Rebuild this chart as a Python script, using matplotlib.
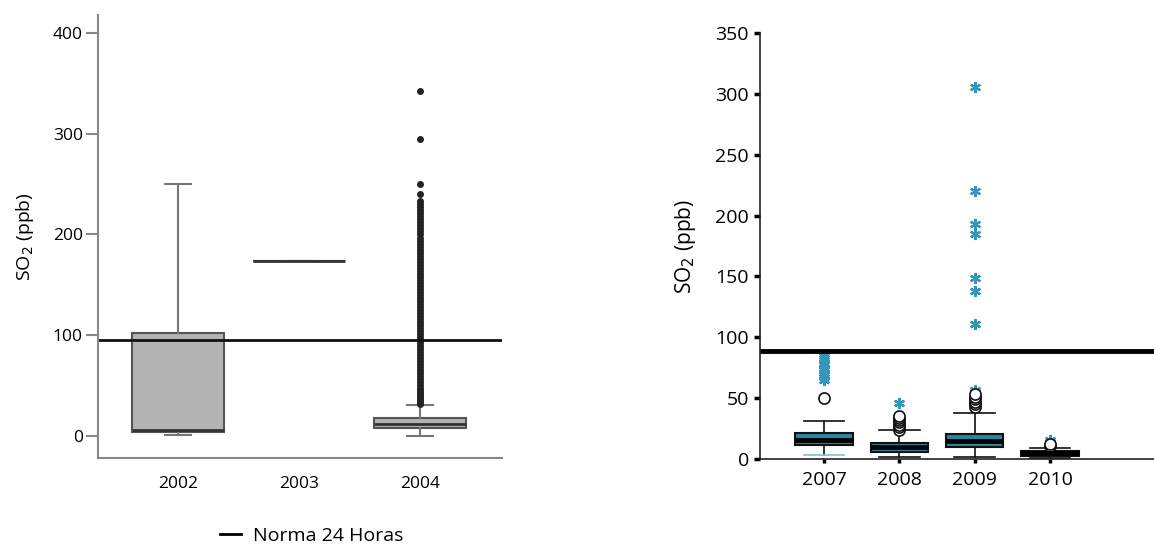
import numpy as np
import matplotlib.pyplot as plt
from matplotlib.lines import Line2D

plt.rcParams['font.family'] = ['Open Sans', 'DejaVu Sans']

# ---- left panel: 2002-2004 ----
years_a = ['2002', '2003', '2004']
q1_a = [4, 174, 8]
med_a = [6, 174, 12]
q3_a = [102, 174, 18]
wlo_a = [1, 174, 0]
whi_a = [250, 174, 31]
fliers_2004 = [32, 34, 36, 38, 40, 42, 44, 46, 48, 50, 53, 56, 59, 62, 65, 68,
                71, 74, 77, 80, 83, 86, 89, 92, 95, 98, 101, 104, 107, 110, 113,
                116, 119, 122, 125, 128, 131, 134, 137, 140, 143, 146, 149, 152,
                155, 158, 161, 164, 167, 170, 173, 176, 179, 182, 185, 188, 191,
                194, 197, 200, 203, 206, 209, 212, 215, 218, 221, 224, 227, 230,
                233, 240, 250, 295, 343]
norma_a = 95

# ---- right panel: 2007-2010 ----
years_b = ['2007', '2008', '2009', '2010']
q1_b = [11.5, 6, 9.6, 2.5]
med_b = [15.6, 9.6, 15, 4.5]
q3_b = [21.6, 13.4, 20.5, 6.6]
wlo_b = [3, 2, 2, 0.5]
whi_b = [31.5, 23.8, 38, 9.3]
circ_b = [[50],
          [24, 26, 28, 30, 32, 34, 35],
          [43, 45, 47, 49, 51, 53],
          [11, 12.5]]
star_b = [[65, 67, 69, 71, 73, 75, 77, 79, 81, 83, 85],
          [46],
          [55, 57, 111, 138, 149, 185, 193, 220, 306],
          [14, 16]]
norma_b = 89

fig = plt.figure(figsize=(11.54, 5.5), dpi=100)

# left
ax = fig.add_axes([0.0849, 0.1673, 0.3503, 0.8054])
stats = []
for i in range(len(years_a)):
    stats.append(dict(q1=q1_a[i], med=med_a[i], q3=q3_a[i],
                      whislo=wlo_a[i], whishi=whi_a[i], fliers=[]))
ax.bxp(stats, positions=[1, 2, 3], widths=0.76, patch_artist=True,
       showfliers=False,
       boxprops=dict(facecolor='#b3b3b3', edgecolor='#555555', linewidth=1.5),
       medianprops=dict(color='#333333', linewidth=2),
       whiskerprops=dict(color='#777777', linewidth=1.5),
       capprops=dict(color='#777777', linewidth=1.5), capwidths=0.21)
ax.plot([3] * len(fliers_2004), fliers_2004, 'o', color='#222222',
        markersize=5, markeredgewidth=0)
ax.axhline(norma_a, color='#111111', linewidth=2)
ax.set_xlim(0.34, 3.68)
ax.set_ylim(-22, 418)
ax.set_yticks([0, 100, 200, 300, 400])
ax.set_xticks([1, 2, 3])
ax.set_xticklabels(years_a)
for s in ['top', 'right']:
    ax.spines[s].set_visible(False)
for s in ['left', 'bottom']:
    ax.spines[s].set_color('#888888')
    ax.spines[s].set_linewidth(1.5)
ax.tick_params(axis='y', length=9, color='#888888', width=1.5, labelsize=12.5,
               pad=2)
ax.tick_params(axis='x', length=0, labelsize=12.5, pad=13)
ax.set_ylabel(r'SO$_2$ (ppb)', fontsize=14, labelpad=12)
fig.legend([Line2D([], [], color='black', linewidth=2)], ['Norma 24 Horas'],
           loc='center', bbox_to_anchor=(0.27, 0.025), frameon=False,
           fontsize=14, handlelength=1.1, handletextpad=0.6)

# right
axr = fig.add_axes([0.6586, 0.1655, 0.3414, 0.7745])
stats = []
for i in range(len(years_b)):
    stats.append(dict(q1=q1_b[i], med=med_b[i], q3=q3_b[i],
                      whislo=wlo_b[i], whishi=whi_b[i], fliers=[]))
bp = axr.bxp(stats, positions=[1, 2, 3, 4], widths=0.76, patch_artist=True,
             showfliers=False,
             boxprops=dict(facecolor='#2a84a4', edgecolor='#111111',
                           linewidth=1.5),
             medianprops=dict(color='#000000', linewidth=3.5),
             whiskerprops=dict(color='#111111', linewidth=1.2),
             capprops=dict(color='#111111', linewidth=1.2), capwidths=0.54)
bp['caps'][0].set_color('#7fc0d8')  # lower cap of 2007 is light blue
for i in range(len(years_b)):
    axr.plot([i + 1] * len(star_b[i]), star_b[i], marker=(6, 2, 0),
             linestyle='none', color='#3596bb', markersize=8,
             markeredgewidth=1.6)
    axr.plot([i + 1] * len(circ_b[i]), circ_b[i], 'o', markerfacecolor='white',
             markeredgecolor='#111111', markersize=8, markeredgewidth=1.2)
axr.axhline(norma_b, color='black', linewidth=3.5)
axr.set_xlim(0.15, 5.38)
axr.set_ylim(0, 350)
axr.set_yticks(np.arange(0, 351, 50))
axr.set_xticks([1, 2, 3, 4])
axr.set_xticklabels(years_b)
for s in ['top', 'right']:
    axr.spines[s].set_visible(False)
for s in ['left', 'bottom']:
    axr.spines[s].set_color('#222222')
    axr.spines[s].set_linewidth(1.2)
axr.tick_params(axis='y', length=4, width=2.5, labelsize=14, pad=4)
axr.tick_params(axis='x', length=3, width=2.5, labelsize=14, pad=6)
axr.set_ylabel(r'SO$_2$ (ppb)', fontsize=15, labelpad=12)

fig.savefig('out.png', dpi=100)
